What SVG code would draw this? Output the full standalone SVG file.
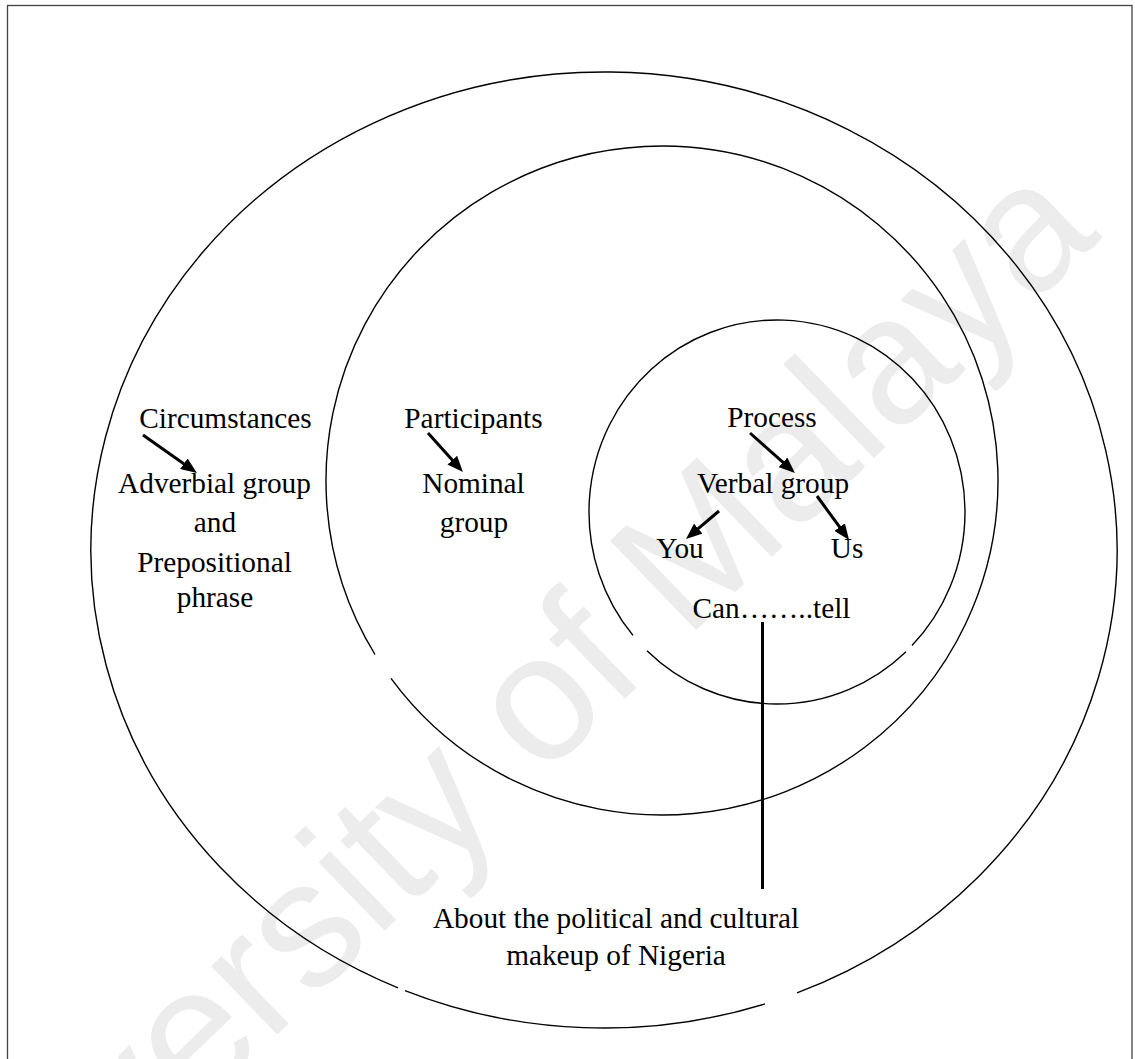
<svg xmlns="http://www.w3.org/2000/svg" width="1135" height="1059" viewBox="0 0 1135 1059">
<style>
.t{font-family:"Liberation Serif","Times New Roman",serif;font-size:29.3px;fill:#000;text-anchor:middle}
.c{fill:none;stroke:#000;stroke-width:1.4}
.a{stroke:#000;stroke-width:3;fill:none}
.wm{font-family:"Liberation Sans",Arial,sans-serif;font-size:180px;fill:#ececec;text-anchor:middle}
</style>
<defs>
<marker id="ah" markerUnits="userSpaceOnUse" markerWidth="16" markerHeight="13" refX="2" refY="6.5" orient="auto">
<path d="M0,0 L16,6.5 L0,13 z" fill="#000"/>
</marker>
</defs>
<rect width="1135" height="1059" fill="#fff"/>
<text class="wm" transform="translate(520,800) rotate(-44)">University of Malaya</text>
<rect x="7.5" y="5.5" width="1124.5" height="1070" fill="none" stroke="#444" stroke-width="1.3"/>
<g id="outer">
<path class="c" d="M405,990.6 A513,478 0 0 0 765,1003.9"/>
<path class="c" d="M797,992.9 A513,478 0 1 0 398,987.8"/>
<text class="t" x="225.5" y="428">Circumstances</text>
<text class="t" x="214.5" y="493">Adverbial group</text>
<text class="t" x="215" y="532">and</text>
<text class="t" x="214.5" y="572">Prepositional</text>
<text class="t" x="215" y="607">phrase</text>
</g>
<g id="middle">
<path class="c" d="M391,678.3 A336,334.5 0 1 0 375,654.5"/>
<text class="t" x="473.5" y="428">Participants</text>
<text class="t" x="473.5" y="493">Nominal</text>
<text class="t" x="474" y="532">group</text>
</g>
<g id="inner">
<path class="c" d="M647,650.7 A188,192 0 0 0 906,651.7"/>
<path class="c" d="M912,645.6 A188,192 0 1 0 633,635.4"/>
<text class="t" x="772" y="427">Process</text>
<text class="t" x="773" y="493">Verbal group</text>
<text class="t" x="680" y="558">You</text>
<text class="t" x="847" y="558">Us</text>
<text class="t" x="771.5" y="618">Can……..tell</text>
</g>
<g id="note">
<text class="t" x="616" y="928">About the political and cultural</text>
<text class="t" x="616" y="965">makeup of Nigeria</text>
</g>
<g id="connectors">
<line class="a" x1="143" y1="435" x2="185.5" y2="464.9" marker-end="url(#ah)"/>
<line class="a" x1="428" y1="433" x2="453.6" y2="461.6" marker-end="url(#ah)"/>
<line class="a" x1="750" y1="433" x2="784.5" y2="463.7" marker-end="url(#ah)"/>
<line class="a" x1="719" y1="511" x2="696.7" y2="529.9" marker-end="url(#ah)"/>
<line class="a" x1="817" y1="496" x2="840.8" y2="528.7" marker-end="url(#ah)"/>
<line class="a" x1="762.5" y1="622" x2="762.5" y2="889"/>
</g>
</svg>
